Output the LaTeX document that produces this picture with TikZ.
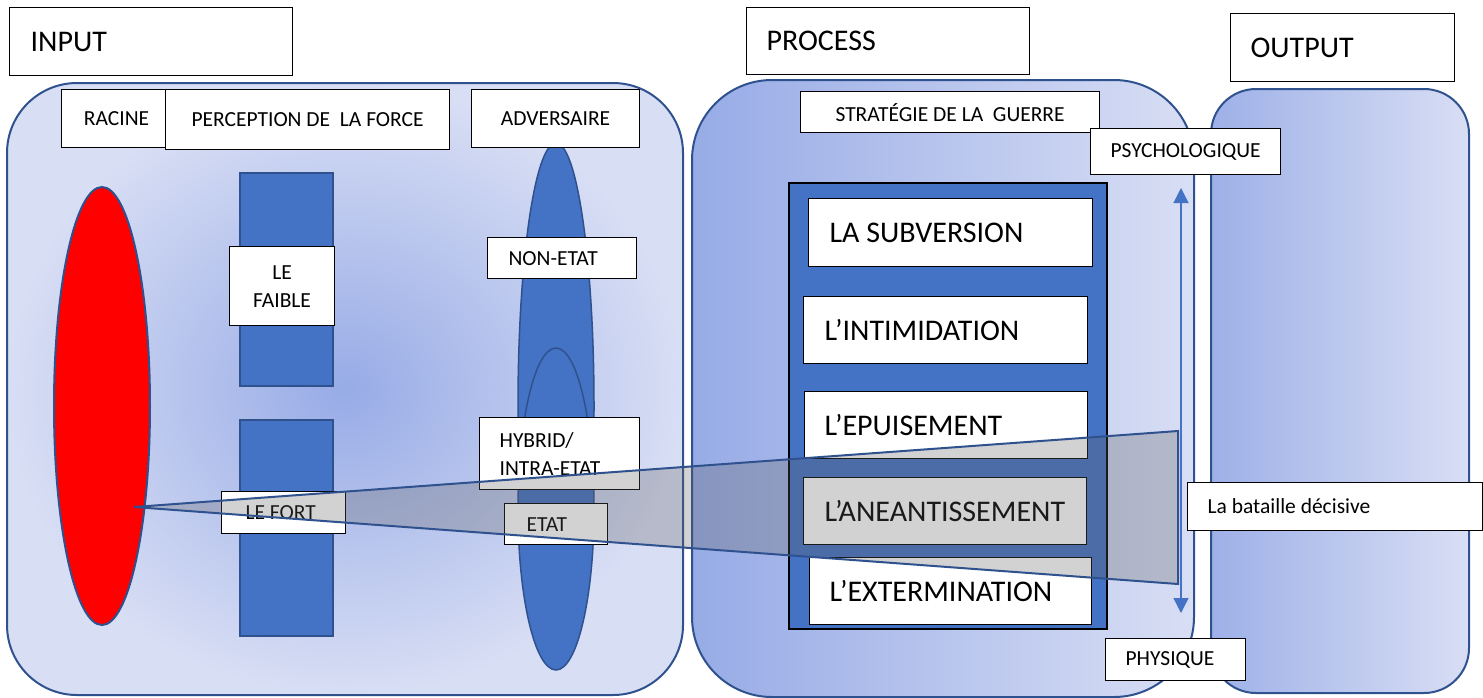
\documentclass[tikz,border=0pt]{standalone}
\usepackage{fontspec}
\setmainfont{Carlito}
\usetikzlibrary{arrows.meta}
\definecolor{edgeblue}{HTML}{2F528F}
\definecolor{bodyblue}{HTML}{4472C4}
\definecolor{deepblue}{HTML}{97ABE6}
\definecolor{paleblue}{HTML}{D8DEF4}
\definecolor{veil}{HTML}{5E5E5E}
\hyphenpenalty=10000
\exhyphenpenalty=10000
\begin{document}
\begin{tikzpicture}[x=1pt,y=-1pt,>={Triangle[width=15pt,length=15pt]},
    box/.style={draw=black,fill=white,line width=1.2pt,anchor=north west,inner ysep=0pt,align=flush left},
    mid/.style={box,align=flush center,inner xsep=5pt},
    big/.style={font=\fontsize{30}{32}\selectfont},
    small/.style={font=\fontsize{21.5}{28}\selectfont},
    panel/.style={draw=edgeblue,line width=2pt},
    blob/.style={fill=bodyblue,draw=edgeblue,line width=1.5pt}]
    \useasboundingbox (0,0) rectangle (1483,697);
    \shade[panel,inner color=deepblue,outer color=paleblue,rounded corners=70pt](7,83)rectangle(683,695);
    \shade[panel,left color=deepblue,right color=paleblue,rounded corners=80pt](692,80)rectangle(1194,697);
    \shade[panel,left color=deepblue!90!paleblue,right color=paleblue,rounded corners=45pt](1211,89)rectangle(1469,693);
    \filldraw[fill=red,draw=edgeblue,line width=2pt](102,406)ellipse(48pt and 219pt);
    \filldraw[blob](240,173)rectangle(333,386)(240,420)rectangle(333,636);
    \filldraw[blob](556,406)ellipse(38pt and 263pt);
    \filldraw[blob](556,509)ellipse(38pt and 161pt);
    \filldraw[fill=bodyblue,draw=black,line width=2.5pt](789,183)rectangle(1107,629);
    \node[box,big,minimum height=68pt,text width=241pt,inner xsep=21pt](input)at(9,7){INPUT};
    \node[box,big,minimum height=67pt,text width=243pt,inner xsep=20pt](process)at(746,7){PROCESS};
    \node[box,big,minimum height=68pt,text width=184pt,inner xsep=20pt](output)at(1230,13){OUTPUT};
    \node[mid,small,minimum height=58pt,text width=100pt](racine)at(61,89){RACINE};
    \node[mid,small,minimum height=60pt,text width=274pt](perception)at(165,89){PERCEPTION DE\ \ LA FORCE};
    \node[mid,small,minimum height=58pt,text width=158pt](adversaire)at(471,89){ADVERSAIRE};
    \node[mid,small,minimum height=41pt,text width=289pt](strategie)at(800,91){STRATÉGIE DE LA\ \ GUERRE};
    \node[mid,small,minimum height=46pt,text width=180pt](psycho)at(1090,128){PSYCHOLOGIQUE};
    \node[mid,small,minimum height=79pt,text width=95pt](faible)at(229,246){LE\\FAIBLE};
    \node[box,small,minimum height=41pt,text width=107pt,inner xsep=21pt](nonetat)at(487,237){NON-ETAT};
    \node[box,small,minimum height=72pt,text width=120pt,inner xsep=20pt](hybrid)at(479,417){HYBRID/\\INTRA-ETAT};
    \node[box,small,minimum height=42pt,text width=76pt,inner xsep=24pt](fort)at(221,491){LE FORT};
    \node[box,small,minimum height=41pt,text width=59pt,inner xsep=22pt](etat)at(504,503){ETAT};
    \node[box,big,minimum height=68pt,text width=242pt,inner xsep=21pt](subversion)at(808,198){LA SUBVERSION};
    \node[box,big,minimum height=67pt,text width=242pt,inner xsep=21pt](intimidation)at(803,296){L’INTIMIDATION};
    \node[box,big,minimum height=67pt,text width=243pt,inner xsep=20pt](epuisement)at(804,391){L’EPUISEMENT};
    \node[box,big,minimum height=67pt,text width=241pt,inner xsep=21pt](aneantissement)at(803,477){L’ANEANTISSEMENT};
    \node[box,big,minimum height=67pt,text width=242pt,inner xsep=20pt](extermination)at(809,557){L’EXTERMINATION};
    \node[box,small,minimum height=48pt,text width=255pt,inner xsep=20pt](bataille)at(1187,482){La bataille décisive};
    \node[box,small,minimum height=42pt,text width=100pt,inner xsep=20pt](physique)at(1105,638){PHYSIQUE};
    \coordinate(apex)at(134,507);
    \coordinate(hi)at(1178,431);
    \coordinate(lo)at(1178,584);
    \filldraw[fill=veil,fill opacity=0.28,draw=edgeblue,line width=2pt](apex)--(hi)--(lo)--cycle;
    \coordinate(top)at(1181,188);
    \coordinate(bottom)at(1181,613);
    \draw[<->,bodyblue,line width=1.3pt](top)--(bottom);
\end{tikzpicture}
\end{document}
